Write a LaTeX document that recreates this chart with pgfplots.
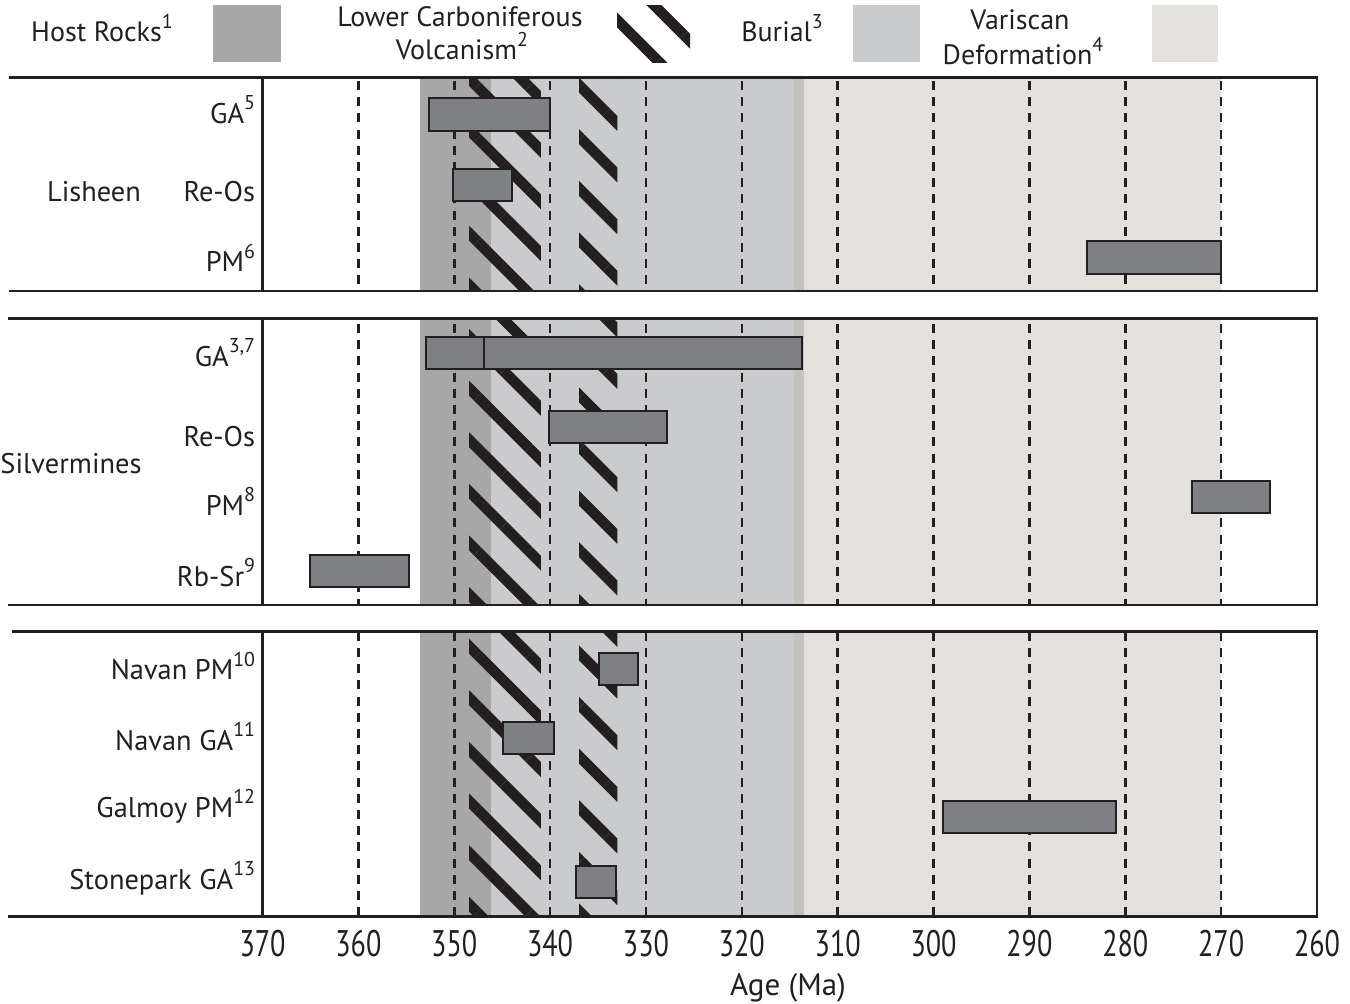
\documentclass[border=0pt]{standalone}
\usepackage{pgfplots}
\pgfplotsset{compat=1.18}
\usepackage{fontspec}
\setmainfont{PT Sans}
\newfontfamily\tickfont[FakeStretch=0.76]{PT Sans}
\usetikzlibrary{patterns.meta}
\definecolor{ink}{HTML}{231F20}
\definecolor{hostc}{HTML}{A7A7A7}
\definecolor{burialc}{HTML}{CACBCD}
\definecolor{stripc}{HTML}{C4C3BF}
\definecolor{varc}{HTML}{E2E1DE}
\definecolor{barc}{HTML}{7F8083}
\tikzset{hatch/.style={pattern={Lines[angle=-45,distance=18.25pt,line width=5.3pt]},pattern color=ink}}
\newcommand\lab{\fontsize{14.2}{16}\selectfont}
\newcommand\leg{\fontsize{14}{16}\selectfont}
\newcommand\sups[1]{\raisebox{0.95ex}{\fontsize{10}{10}\selectfont #1}}

\pgfplotsset{
  panel/.style={
    scale only axis, width=527.25pt, anchor=center,
    xmin=260, xmax=370, x dir=reverse, y dir=reverse,
    axis line style={line width=1.3pt, ink},
    axis on top,
    xtick=\empty,
    major tick length=0pt,
    yticklabel style={anchor=base east, inner sep=0pt, xshift=-3.5pt, font=\lab, text=ink},
  },
  bar/.style={fill=barc, draw=ink, line width=1pt},
  griddash/.style={ink, line width=1.3pt, dash pattern=on 4.5pt off 3.6pt},
}
\newcommand\bands{%
  \addplot[draw=none, fill=hostc] coordinates {(353.56,0) (346.18,0) (346.18,1000) (353.56,1000)} -- cycle;
  \addplot[draw=none, fill=burialc] coordinates {(346.18,0) (314.59,0) (314.59,1000) (346.18,1000)} -- cycle;
  \addplot[draw=none, fill=stripc] coordinates {(314.59,0) (313.47,0) (313.47,1000) (314.59,1000)} -- cycle;
  \addplot[draw=none, fill=varc] coordinates {(313.47,0) (270,0) (270,1000) (313.47,1000)} -- cycle;
  \addplot[draw=none, hatch] coordinates {(348.45,0) (340.96,0) (340.96,1000) (348.45,1000)} -- cycle;
  \addplot[draw=none, hatch] coordinates {(336.96,0) (332.99,0) (332.99,1000) (336.96,1000)} -- cycle;
  \pgfplotsinvokeforeach{360,350,340,330,320,310,300,290,280,270}{%
    \addplot[griddash] coordinates {(##1,0) (##1,1000)};
  }%
}

\begin{document}
\begin{tikzpicture}
\useasboundingbox (0pt,0pt) rectangle (675pt,-501.5pt);

% ---------- legend ----------
\begin{scope}[every node/.style={font=\leg, text=ink, inner sep=0pt}]
\node[anchor=base] at (51pt,-20.75pt) {Host Rocks\sups{1}};
\fill[hostc] (106.5pt,-2.5pt) rectangle (140.5pt,-31pt);
\node[anchor=base] at (230pt,-13.25pt) {Lower Carboniferous};
\node[anchor=base] at (231pt,-29.75pt) {Volcanism\sups{2}};
\fill[hatch] (308.5pt,-2.5pt) rectangle (345pt,-31pt);
\node[anchor=base] at (391pt,-20.75pt) {Burial\sups{3}};
\fill[burialc] (426.5pt,-2.5pt) rectangle (460pt,-31pt);
\node[anchor=base] at (510pt,-14.75pt) {Variscan};
\node[anchor=base] at (511.5pt,-32.25pt) {Deformation\sups{4}};
\fill[varc] (576pt,-2.5pt) rectangle (609pt,-31pt);
\end{scope}

% ---------- panel 1: Lisheen ----------
\begin{axis}[panel, at={(394.875pt,-92.075pt)}, height=106.85pt,
  ymin=77.3, ymax=291,
  ytick={123.3,201,271.5},
  yticklabels={{GA\sups{5}},{Re-Os},{PM\sups{6}}}]
\bands
\addplot[bar] coordinates {(352.6,98.3) (340.0,98.3) (340.0,131) (352.6,131)} -- cycle;
\addplot[bar] coordinates {(350.1,169) (344.0,169) (344.0,201) (350.1,201)} -- cycle;
\addplot[bar] coordinates {(284.0,241) (270.0,241) (270.0,273.5) (284.0,273.5)} -- cycle;
\end{axis}

% ---------- panel 2: Silvermines ----------
\begin{axis}[panel, at={(394.875pt,-230.825pt)}, height=143.35pt,
  ymin=318.3, ymax=605,
  ytick={366,446,515,586},
  yticklabels={{GA\sups{3,7}},{Re-Os},{PM\sups{8}},{Rb-Sr\sups{9}}}]
\bands
\addplot[bar] coordinates {(352.9,336.7) (346.9,336.7) (346.9,369.3) (352.9,369.3)} -- cycle;
\addplot[bar] coordinates {(346.9,336.7) (313.7,336.7) (313.7,369.3) (346.9,369.3)} -- cycle;
\addplot[bar] coordinates {(340.1,411) (327.8,411) (327.8,443) (340.1,443)} -- cycle;
\addplot[bar] coordinates {(273.0,481) (264.9,481) (264.9,513) (273.0,513)} -- cycle;
\addplot[bar] coordinates {(365.0,555) (354.7,555) (354.7,587) (365.0,587)} -- cycle;
\end{axis}

% ---------- panel 3: others ----------
\begin{axis}[panel, at={(394.875pt,-387pt)}, height=142.5pt,
  ymin=631.5, ymax=916.5,
  ytick={679.5,750,817,889},
  yticklabels={{Navan PM\sups{10}},{Navan GA\sups{11}},{Galmoy PM\sups{12}},{Stonepark GA\sups{13}}},
  xtick={370,360,...,260},
  /pgf/number format/assume math mode=true,
  xticklabel style={font=\tickfont\fontsize{18.5}{20}\selectfont, text=ink, anchor=north, inner sep=0pt, yshift=-6.75pt}]
\bands
\addplot[bar] coordinates {(334.9,652.7) (330.8,652.7) (330.8,685) (334.9,685)} -- cycle;
\addplot[bar] coordinates {(344.9,722) (339.6,722) (339.6,754.3) (344.9,754.3)} -- cycle;
\addplot[bar] coordinates {(299.0,800.7) (281.0,800.7) (281.0,833) (299.0,833)} -- cycle;
\addplot[bar] coordinates {(337.3,866) (333.1,866) (333.1,898.3) (337.3,898.3)} -- cycle;
\end{axis}

% ---------- left extensions of panel frames ----------
\begin{scope}[ink, line width=1.3pt]
\draw (4.6pt,-38.65pt) -- (131.25pt,-38.65pt);
\draw (4.6pt,-145.5pt) -- (131.25pt,-145.5pt);
\draw (4.2pt,-159.15pt) -- (131.25pt,-159.15pt);
\draw (4.2pt,-302.5pt) -- (131.25pt,-302.5pt);
\draw (6pt,-315.75pt) -- (131.25pt,-315.75pt);
\draw (4.2pt,-458.25pt) -- (131.25pt,-458.25pt);
\end{scope}

% ---------- group labels and x label ----------
\begin{scope}[every node/.style={font=\lab, text=ink, inner sep=0pt}]
\node[anchor=base] at (47pt,-100.5pt) {Lisheen};
\node[anchor=base] at (35.5pt,-236.5pt) {Silvermines};
\node[anchor=base, font=\fontsize{15.5}{18}\selectfont] at (394pt,-497.5pt) {Age (Ma)};
\end{scope}
\end{tikzpicture}
\end{document}
